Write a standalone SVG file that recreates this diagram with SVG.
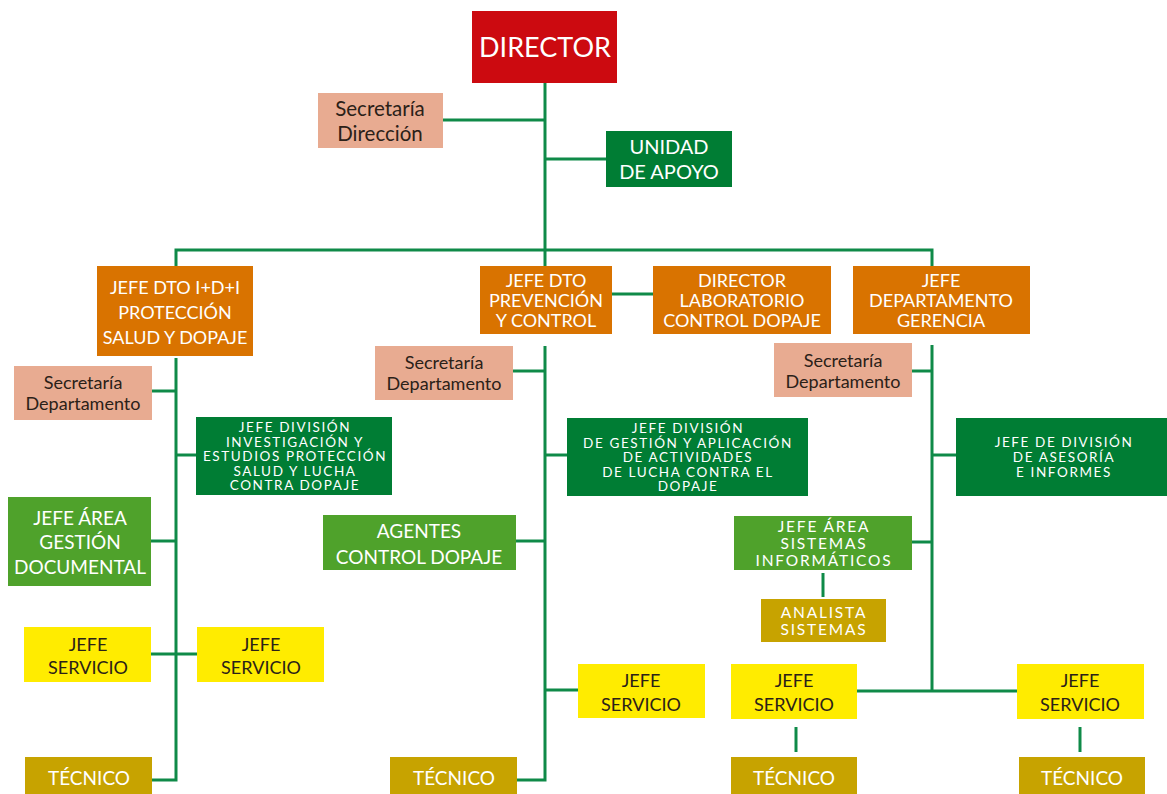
<svg xmlns="http://www.w3.org/2000/svg" width="1167" height="794" viewBox="0 0 1167 794">
<style>
text{font-family:Lato,"Open Sans","Liberation Sans",sans-serif;text-anchor:middle}
.w{fill:#ffffff}
.d{fill:#2b2118}
.red{fill:#cc0a10}
.org{fill:#d97300}
.sal{fill:#e8ab91}
.dg{fill:#007d34}
.lg{fill:#4fa22b}
.yel{fill:#ffec00}
.olv{fill:#c7a300}
.edge{stroke:#0f8a48;stroke-width:3;fill:none}
.f28{font-size:27px}
.f20{font-size:20px}
.fsd{font-size:20.5px}
.f19{font-size:19px}
.f18{font-size:18px}
.fsec{font-size:18px}
.fsis{font-size:15.5px;letter-spacing:1.8px}
.fdiv{font-size:13.5px;letter-spacing:1.6px}
</style>
<rect width="1167" height="794" fill="#ffffff"/>
<g id="connectors">
<path class="edge" d="M545 83V266"/>
<path class="edge" d="M443 120H545"/>
<path class="edge" d="M545 159H606"/>
<path class="edge" d="M176 266V250H932V266"/>
<path class="edge" d="M612 294H653"/>
<path class="edge" d="M176 358V780H152"/>
<path class="edge" d="M152 391H176"/>
<path class="edge" d="M176 455H196"/>
<path class="edge" d="M151 541H176"/>
<path class="edge" d="M151 654H197"/>
<path class="edge" d="M545 346V780H517"/>
<path class="edge" d="M513 371H545"/>
<path class="edge" d="M545 455H567"/>
<path class="edge" d="M516 541H545"/>
<path class="edge" d="M545 690H578"/>
<path class="edge" d="M932 345V691"/>
<path class="edge" d="M912 371H932"/>
<path class="edge" d="M932 455H956"/>
<path class="edge" d="M912 542H932"/>
<path class="edge" d="M823 573V597"/>
<path class="edge" d="M857 691H1017"/>
<path class="edge" d="M796 727V752"/>
<path class="edge" d="M1080 727V752"/>
</g>
<g id="director"><rect class="red" x="472" y="11" width="145" height="72"/><text class="w f28" x="545" y="57">DIRECTOR</text></g>
<g id="secretaria-direccion"><rect class="sal" x="318" y="93" width="125" height="55"/><text class="d fsd" x="380" y="116">Secretaría</text><text class="d fsd" x="380" y="141">Dirección</text></g>
<g id="unidad-apoyo"><rect class="dg" x="606" y="131" width="126" height="56"/><text class="w f20" x="669" y="154">UNIDAD</text><text class="w f20" x="669" y="179">DE APOYO</text></g>
<g id="jefe-dto-idi"><rect class="org" x="97" y="266" width="156" height="90"/><text class="w f18" x="175" y="294">JEFE DTO I+D+I</text><text class="w f18" x="175" y="319">PROTECCIÓN</text><text class="w f18" x="175" y="344">SALUD Y DOPAJE</text></g>
<g id="jefe-dto-prevencion"><rect class="org" x="480" y="266" width="132" height="68"/><text class="w f18" x="546" y="287">JEFE DTO</text><text class="w f18" x="546" y="307">PREVENCIÓN</text><text class="w f18" x="546" y="327">Y CONTROL</text></g>
<g id="director-laboratorio"><rect class="org" x="653" y="266" width="178" height="68"/><text class="w f18" x="742" y="287">DIRECTOR</text><text class="w f18" x="742" y="307">LABORATORIO</text><text class="w f18" x="742" y="327">CONTROL DOPAJE</text></g>
<g id="jefe-dpto-gerencia"><rect class="org" x="853" y="266" width="177" height="68"/><text class="w f18" x="941" y="287">JEFE</text><text class="w f18" x="941" y="307">DEPARTAMENTO</text><text class="w f18" x="941" y="327">GERENCIA</text></g>
<g id="secretaria-dpto-1"><rect class="sal" x="14" y="366" width="138" height="54"/><text class="d fsec" x="83" y="389">Secretaría</text><text class="d fsec" x="83" y="410">Departamento</text></g>
<g id="jefe-division-investigacion"><rect class="dg" x="196" y="417" width="196" height="78"/><text class="w fdiv" x="295" y="432">JEFE DIVISIÓN</text><text class="w fdiv" x="295" y="446.5">INVESTIGACIÓN Y</text><text class="w fdiv" x="295" y="461">ESTUDIOS PROTECCIÓN</text><text class="w fdiv" x="295" y="475.5">SALUD Y LUCHA</text><text class="w fdiv" x="295" y="490">CONTRA DOPAJE</text></g>
<g id="jefe-area-gestion-documental"><rect class="lg" x="8" y="497" width="143" height="89"/><text class="w f19" x="80" y="525">JEFE ÁREA</text><text class="w f19" x="80" y="549">GESTIÓN</text><text class="w f19" x="80" y="574">DOCUMENTAL</text></g>
<g id="jefe-servicio-1"><rect class="yel" x="24" y="627" width="127" height="55"/><text class="d f18" x="88" y="651">JEFE</text><text class="d f18" x="88" y="674">SERVICIO</text></g>
<g id="jefe-servicio-2"><rect class="yel" x="197" y="627" width="127" height="55"/><text class="d f18" x="261" y="651">JEFE</text><text class="d f18" x="261" y="674">SERVICIO</text></g>
<g id="tecnico-1"><rect class="olv" x="25" y="757" width="127" height="40"/><text class="w f19" x="89" y="785">TÉCNICO</text></g>
<g id="secretaria-dpto-2"><rect class="sal" x="375" y="346" width="138" height="54"/><text class="d fsec" x="444" y="369">Secretaría</text><text class="d fsec" x="444" y="390">Departamento</text></g>
<g id="jefe-division-gestion"><rect class="dg" x="567" y="418" width="241" height="78"/><text class="w fdiv" x="688" y="433">JEFE DIVISIÓN</text><text class="w fdiv" x="688" y="447.5">DE GESTIÓN Y APLICACIÓN</text><text class="w fdiv" x="688" y="462">DE ACTIVIDADES</text><text class="w fdiv" x="688" y="476.5">DE LUCHA CONTRA EL</text><text class="w fdiv" x="688" y="491">DOPAJE</text></g>
<g id="agentes-control-dopaje"><rect class="lg" x="323" y="515" width="193" height="55"/><text class="w f19" x="419" y="538">AGENTES</text><text class="w f19" x="419" y="564">CONTROL DOPAJE</text></g>
<g id="jefe-servicio-3"><rect class="yel" x="578" y="664" width="127" height="54"/><text class="d f18" x="641" y="687">JEFE</text><text class="d f18" x="641" y="711">SERVICIO</text></g>
<g id="tecnico-2"><rect class="olv" x="390" y="757" width="127" height="40"/><text class="w f19" x="454" y="785">TÉCNICO</text></g>
<g id="secretaria-dpto-3"><rect class="sal" x="774" y="343" width="138" height="54"/><text class="d fsec" x="843" y="367">Secretaría</text><text class="d fsec" x="843" y="388">Departamento</text></g>
<g id="jefe-division-asesoria"><rect class="dg" x="956" y="418" width="215" height="78"/><text class="w fdiv" x="1064" y="447">JEFE DE DIVISIÓN</text><text class="w fdiv" x="1064" y="462">DE ASESORÍA</text><text class="w fdiv" x="1064" y="477">E INFORMES</text></g>
<g id="jefe-area-sistemas"><rect class="lg" x="734" y="516" width="178" height="54"/><text class="w fsis" x="824" y="532">JEFE ÁREA</text><text class="w fsis" x="824" y="549">SISTEMAS</text><text class="w fsis" x="824" y="566">INFORMÁTICOS</text></g>
<g id="analista-sistemas"><rect class="olv" x="761" y="599" width="125" height="43"/><text class="w fsis" x="824" y="618">ANALISTA</text><text class="w fsis" x="824" y="635">SISTEMAS</text></g>
<g id="jefe-servicio-4"><rect class="yel" x="731" y="664" width="126" height="55"/><text class="d f18" x="794" y="687">JEFE</text><text class="d f18" x="794" y="711">SERVICIO</text></g>
<g id="jefe-servicio-5"><rect class="yel" x="1017" y="664" width="127" height="55"/><text class="d f18" x="1080" y="687">JEFE</text><text class="d f18" x="1080" y="711">SERVICIO</text></g>
<g id="tecnico-3"><rect class="olv" x="731" y="757" width="126" height="40"/><text class="w f19" x="794" y="785">TÉCNICO</text></g>
<g id="tecnico-4"><rect class="olv" x="1019" y="757" width="126" height="40"/><text class="w f19" x="1082" y="785">TÉCNICO</text></g>
</svg>
